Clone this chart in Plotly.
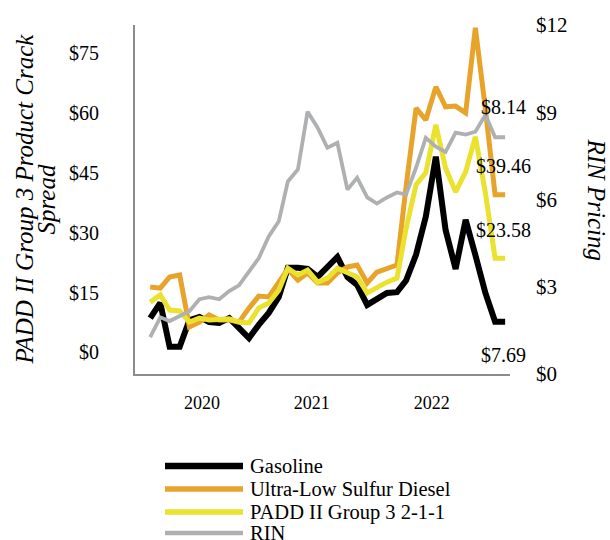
import plotly.graph_objects as go

months = [f"{y}-{m:02d}" for y in (2020, 2021, 2022) for m in range(1, 13)] + ["2023-01"]

gasoline = [8.6, 12.4, 1.4, 1.4, 8.1, 8.9, 7.6, 7.4, 8.6, 6.1, 3.6, 6.9, 9.9, 13.9, 21.2, 21.2,
            20.9, 18.9, 21.2, 23.9, 18.9, 16.9, 11.9, 13.4, 14.9, 15.1, 18.0, 24.5, 34.0, 49.0,
            30.7, 20.9, 33.2, 24.4, 14.9, 7.69, 7.69]
ulsd = [16.4, 16.1, 18.9, 19.4, 6.4, 7.6, 9.4, 8.1, 8.1, 7.6, 11.1, 14.1, 13.9, 17.4, 20.9, 18.1,
        19.9, 17.4, 17.4, 19.9, 21.4, 21.9, 17.4, 20.1, 20.9, 21.9, 41.5, 61.2, 58.2, 66.5,
        61.5, 61.7, 60.0, 81.3, 61.0, 39.46, 39.46]
padd = [12.6, 14.4, 10.6, 10.4, 7.6, 8.6, 8.1, 8.1, 8.4, 7.6, 7.4, 11.1, 12.4, 15.6, 21.1, 19.4,
        20.6, 17.6, 18.6, 21.1, 20.1, 18.9, 14.9, 16.4, 17.6, 18.6, 31.0, 42.0, 45.0, 57.0,
        46.2, 40.2, 45.2, 54.0, 40.0, 23.58, 23.58]
rin = [1.27, 1.95, 1.82, 1.99, 2.16, 2.57, 2.64, 2.57, 2.85, 3.05, 3.50, 3.98, 4.73, 5.25, 6.62,
       7.03, 9.02, 8.47, 7.78, 7.95, 6.34, 6.75, 6.07, 5.86, 6.07, 6.24, 6.17, 7.10, 8.12, 7.82,
       7.64, 8.30, 8.23, 8.33, 8.91, 8.14, 8.14]

series_names = ["Gasoline", "Ultra-Low Sulfur Diesel", "PADD II Group 3 2-1-1", "RIN"]
left_ticks = [0, 15, 30, 45, 60, 75]
right_ticks = [0, 3, 6, 9, 12]
year_tick_dates = ["2020-06-09", "2021-05-14", "2022-05-19"]
year_labels = ["2020", "2021", "2022"]

FONT = "Liberation Serif"
BLACK = "#000000"
ORANGE = "#E8A32B"
YELLOW = "#EAE22E"
GRAY = "#AEB0B1"
AXIS = "#8C8C8C"

W, H = 610, 540
ML, MR, MT, MB = 135, 100, 25, 166
PW, PH = W - ML - MR, H - MT - MB


def px_x(px):
    return (px - ML) / PW


def px_y(py):
    return (H - MB - py) / PH


colors = [BLACK, ORANGE, YELLOW, GRAY]
widths = [6, 5, 5, 3.8]
values = [gasoline, ulsd, padd, rin]
axes = ["y", "y", "y", "y2"]

fig = go.Figure()
for name, vals, col, wd, ax in zip(series_names, values, colors, widths, axes):
    fig.add_trace(go.Scatter(x=months, y=vals, name=name, mode="lines", yaxis=ax,
                             line=dict(color=col, width=wd), showlegend=False))

fig.update_layout(
    width=W, height=H,
    margin=dict(l=ML, r=MR, t=MT, b=MB),
    paper_bgcolor="white", plot_bgcolor="white",
    font=dict(family=FONT, color="black", size=20),
    xaxis=dict(type="date", range=["2019-11-15", "2023-01-16"],
               tickvals=year_tick_dates, ticktext=year_labels,
               tickfont=dict(size=18), ticks="", ticklabelstandoff=11,
               showline=True, linecolor=AXIS, linewidth=2, showgrid=False, zeroline=False),
    yaxis=dict(range=[-5.4, 82], tickvals=left_ticks,
               ticktext=[f"${v}" for v in left_ticks],
               tickfont=dict(size=20), ticks="", ticklabelstandoff=30,
               showline=True, linecolor=AXIS, linewidth=2, showgrid=False, zeroline=False),
    yaxis2=dict(range=[0, 12], overlaying="y", side="right", tickvals=right_ticks,
                ticktext=[f"${v}" for v in right_ticks],
                tickfont=dict(size=21), ticks="", ticklabelstandoff=25,
                showline=False, showgrid=False, zeroline=False),
    showlegend=False,
)

# Legend (drawn as keys + labels below the plot)
legend_rows = [466, 489, 512, 533]
legend_widths = [6.5, 5.5, 5.5, 4.5]
for name, col, wd, row in zip(series_names, colors, legend_widths, legend_rows):
    fig.add_shape(type="line", xref="paper", yref="paper",
                  x0=px_x(165), x1=px_x(243), y0=px_y(row), y1=px_y(row),
                  line=dict(color=col, width=wd))
    fig.add_annotation(xref="paper", yref="paper", x=px_x(248), y=px_y(row), text=name,
                       showarrow=False, xanchor="left", yanchor="middle", font=dict(size=20.5))

# Axis titles
fig.add_annotation(xref="paper", yref="paper", x=px_x(24), y=0.5, text="<i>PADD II Group 3 Product Crack</i>",
                   textangle=-90, showarrow=False, font=dict(size=25), xanchor="center", yanchor="middle")
fig.add_annotation(xref="paper", yref="paper", x=px_x(46), y=0.5, text="<i>Spread</i>",
                   textangle=-90, showarrow=False, font=dict(size=25), xanchor="center", yanchor="middle")
fig.add_annotation(xref="paper", yref="paper", x=px_x(596), y=0.5, text="<i>RIN Pricing</i>",
                   textangle=90, showarrow=False, font=dict(size=25), xanchor="center", yanchor="middle")

# End-point data labels
fig.add_annotation(x=months[-1], y=rin[-1], yref="y2", text=f"${rin[-1]:.2f}", showarrow=False,
                   xshift=-2, yshift=30, font=dict(size=20))
fig.add_annotation(x=months[-1], y=ulsd[-1], text=f"${ulsd[-1]:.2f}", showarrow=False,
                   xshift=-2, yshift=29, font=dict(size=20))
fig.add_annotation(x=months[-1], y=padd[-1], text=f"${padd[-1]:.2f}", showarrow=False,
                   xshift=-2, yshift=28, font=dict(size=20))
fig.add_annotation(x=months[-1], y=gasoline[-1], text=f"${gasoline[-1]:.2f}", showarrow=False,
                   xshift=-2, yshift=-33, font=dict(size=20))

fig.write_html("out.html", config={"displayModeBar": False},
               post_script="document.body.style.margin='0px';document.body.style.overflow='hidden';")
